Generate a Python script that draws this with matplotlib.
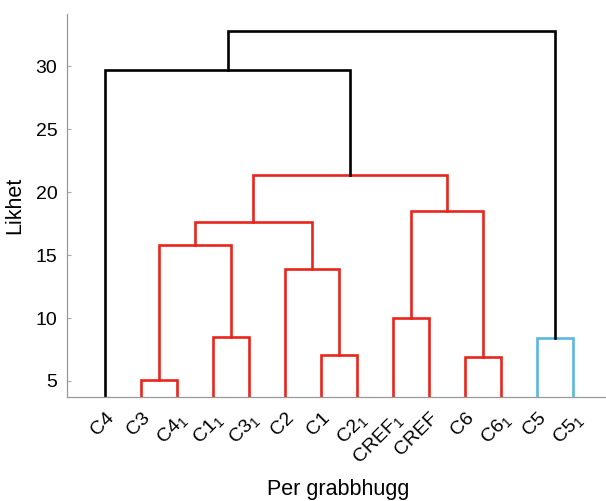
import numpy as np
import matplotlib
matplotlib.use("Agg")
import matplotlib.pyplot as plt

plt.rcParams['font.family'] = ['Liberation Sans', 'DejaVu Sans']
plt.rcParams['mathtext.default'] = 'regular'

# leaves in plotted order
leaf_labels = ['C4', 'C3', 'C4$_1$', 'C1$_1$', 'C3$_1$', 'C2', 'C1', 'C2$_1$',
               'CREF$_1$', 'CREF', 'C6', 'C6$_1$', 'C5', 'C5$_1$']

# merges: (left cluster, right cluster, height); new clusters numbered from 14
merge_left = [1, 3, 6, 10, 8, 12, 5, 14, 21, 18, 22, 0, 25]
merge_right = [2, 4, 7, 11, 9, 13, 16, 15, 20, 17, 23, 24, 19]
merge_height = [5.1, 8.5, 7.1, 6.9, 10.0, 8.4, 13.9, 15.8, 17.6, 18.5, 21.35, 29.7, 32.8]
merge_color = ['r', 'r', 'r', 'r', 'r', 'b', 'r', 'r', 'r', 'r', 'r', 'k', 'k']

colors = {'r': '#e8261c', 'b': '#5cb6e2', 'k': '#000000'}

fig = plt.figure(figsize=(6.06, 5.01), dpi=100)
ax = fig.add_axes([0.1106, 0.2076, 0.8894, 0.7644])

n = len(leaf_labels)
pos = {i: float(i + 1) for i in range(n)}
hgt = {i: 0.0 for i in range(n)}
for k, (a, b, h, c) in enumerate(zip(merge_left, merge_right, merge_height, merge_color)):
    xa, xb = pos[a], pos[b]
    ax.plot([xa, xa, xb, xb], [hgt[a], h, h, hgt[b]], color=colors[c], lw=1.9,
            solid_joinstyle='miter', clip_on=True)
    pos[n + k] = (xa + xb) / 2
    hgt[n + k] = h

ax.set_xlim(-0.056, 14.92)
ax.set_ylim(3.73, 34.13)
ax.set_yticks([5, 10, 15, 20, 25, 30])
ax.set_xticks(np.arange(1, n + 1))
ax.set_xticklabels(leaf_labels, rotation=45, ha='right', rotation_mode='anchor')
ax.tick_params(axis='x', length=0, pad=9, labelsize=14)
ax.tick_params(axis='y', direction='in', length=3, width=0.8, color='#aaaaaa',
               labelsize=14, pad=7)

for s in ['top', 'right']:
    ax.spines[s].set_visible(False)
for s in ['left', 'bottom']:
    ax.spines[s].set_color('#999999')
    ax.spines[s].set_linewidth(0.9)

ax.set_ylabel('Likhet', fontsize=15.5)
ax.yaxis.set_label_coords(-0.078, 0.5)
ax.set_xlabel('Per grabbhugg', fontsize=15.5)
ax.xaxis.set_label_coords(0.503, -0.215)

fig.savefig('out.png', dpi=100)
